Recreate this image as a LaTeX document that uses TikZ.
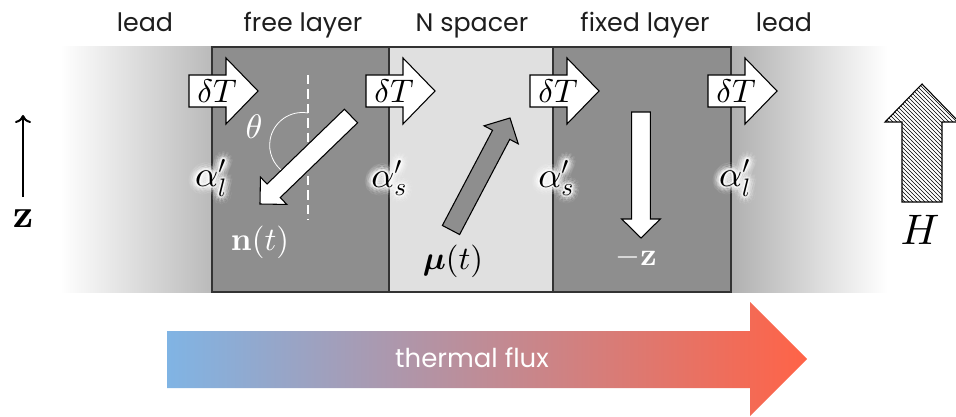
\documentclass[tikz,border=0pt]{standalone}
\usepackage{amsmath,bm}
\usepackage[no-math]{fontspec}
\setmainfont{Poppins}
\usetikzlibrary{calc,patterns,arrows.meta}
% make Computer Modern math fonts freely scalable
\DeclareFontShape{OML}{cmm}{m}{it}{<->cmmi10}{}
\DeclareFontShape{OML}{cmm}{b}{it}{<->cmmib10}{}
\DeclareFontShape{OT1}{cmr}{m}{n}{<->cmr10}{}
\DeclareFontShape{OT1}{cmr}{bx}{n}{<->cmbx10}{}
\DeclareFontShape{OMS}{cmsy}{m}{n}{<->cmsy10}{}
\DeclareFontShape{OMS}{cmsy}{b}{n}{<->cmbsy10}{}
\definecolor{layergray}{RGB}{142,142,142}
\definecolor{spacergray}{RGB}{224,224,224}
\definecolor{fluxblue}{RGB}{128,180,228}
\definecolor{fluxred}{RGB}{255,99,71}
\definecolor{labelgray}{RGB}{30,30,30}

% block arrow: #1 style, #2 tail, #3 tip, #4 half body, #5 half head, #6 head length
\newcommand\blockarr[6]{%
  \coordinate (baT) at (#2);
  \coordinate (baH) at (#3);
  \coordinate (baB) at ($(baH)!#6!(baT)$);
  \path[#1] ($(baT)!#4!90:(baH)$) -- ($(baB)!#4!90:(baH)$) -- ($(baB)!#5!90:(baH)$)
     -- (baH) -- ($(baB)!#5!-90:(baH)$) -- ($(baB)!#4!-90:(baH)$)
     -- ($(baT)!#4!-90:(baH)$) -- cycle;
}
% glowing label: #1 name, #2 position, #3 content
\newcommand\glowlabel[3]{%
  \foreach \gr/\go [count=\gk] in {6pt/0.09,4.5pt/0.14,3pt/0.22,1.5pt/0.38}{%
    \foreach \ga in {0,30,...,330}{%
      \node[alab, text=white, opacity=\go] (#1g\gk x\ga) at ($(#2)+(\ga:\gr)$) {#3};
    }%
  }%
  \node[alab] (#1) at (#2) {#3};
}

\begin{document}
\begin{tikzpicture}[x=0.75pt,y=-0.75pt,
  lay/.style={draw=black!80, line width=0.8pt},
  toplbl/.style={font=\fontsize{19}{22}\selectfont, text=labelgray, anchor=base, inner sep=0pt},
  dtlbl/.style={font=\fontsize{24.5}{28}\selectfont, inner sep=0pt},
  alab/.style={font=\fontsize{27}{31}\selectfont, inner sep=0pt},
  dtarrow/.style={draw=black, fill=white, line width=0.8pt, line join=miter},
  magarrow/.style={draw=black, line width=0.8pt, line join=miter},
  veclbl/.style={font=\fontsize{24.5}{28}\selectfont, inner sep=0pt}
]
\useasboundingbox (0,0) rectangle (956,417);

% leads
\shade[left color=white, right color=black!27] (60,47) rectangle (212,292);
\shade[left color=black!31, right color=white] (731,47) rectangle (887,292);

% layers
\path[lay, fill=layergray] (212,47) rectangle (389,292);
\path[lay, fill=spacergray] (389,47) rectangle (553,292);
\path[lay, fill=layergray] (553,47) rectangle (731,292);

% top labels
\node[toplbl] (leadL) at (145,32) {lead};
\node[toplbl] (freeL) at (303,32) {free layer};
\node[toplbl] (spacerL) at (472,32) {N spacer};
\node[toplbl] (fixedL) at (645,32) {fixed layer};
\node[toplbl] (leadR) at (784,32) {lead};

% delta T arrows
\foreach \X [count=\i] in {212,389,553,731}{
  \blockarr{dtarrow}{\X-23,91}{\X+46,91}{12pt}{24.75pt}{24pt}
  \node[dtlbl] (dT\i) at (\X+5,91) {$\delta T$};
}

% alpha labels
\glowlabel{a1}{211,178}{$\alpha'_l$}
\glowlabel{a2}{389,178}{$\alpha'_s$}
\glowlabel{a3}{556,178}{$\alpha'_s$}
\glowlabel{a4}{735,178}{$\alpha'_l$}

% free layer: dashed axis, angle, n(t)
\coordinate (dashTop) at (308,75);
\coordinate (dashBot) at (308,220);
\draw[white, line width=2pt, dash pattern=on 7pt off 3.8pt] (dashTop) -- (dashBot);
\draw[white, line width=0.6pt] (308,113) arc[start angle=80, end angle=235, radius=24.5pt];
\node[font=\fontsize{25.5}{30}\selectfont, text=white, inner sep=0pt] (theta) at (254,127) {$\theta$};
\blockarr{magarrow, fill=white}{351,116}{260,204}{7.1pt}{14.25pt}{14.25pt}
\node[veclbl, text=white] (nt) at (260,242) {$\mathbf{n}(t)$};

% spacer: mu(t)
\blockarr{magarrow, fill=layergray}{451,230}{510,118}{7.3pt}{14.5pt}{14.25pt}
\node[veclbl] (mut) at (453,261) {$\bm{\mu}(t)$};

% fixed layer: -z
\blockarr{magarrow, fill=white}{641,112}{641,238}{7pt}{14.5pt}{14.25pt}
\node[font=\fontsize{24}{28}\selectfont, text=white, inner sep=0pt] (mz) at (636,257) {$-\mathbf{z}$};

% z axis
\coordinate (zBot) at (23,197);
\coordinate (zTop) at (23,115);
\draw[line width=1.5pt, -{To[length=6pt,width=12pt]}] (zBot) -- (zTop);
\node[font=\fontsize{30}{34}\selectfont, inner sep=0pt] (zlbl) at (23,219) {$\mathbf{z}$};

% H field
\blockarr{magarrow, pattern=north west lines}{922,202}{922,84}{15pt}{27.75pt}{28.5pt}
\node[font=\fontsize{32}{36}\selectfont, inner sep=0pt] (Hlbl) at (920,230) {$H$};

% thermal flux
\coordinate (fTail) at (167,359);
\coordinate (fTip) at (807,359);
\shade[left color=fluxblue, right color=fluxred]
  (167,331) -- (750,331) -- (750,302) -- (fTip) -- (750,416) -- (750,388) -- (167,388) -- cycle;
\node[font=\fontsize{19.5}{23}\selectfont, text=white, inner sep=0pt] (flux) at (472,358) {thermal flux};
\end{tikzpicture}
\end{document}
